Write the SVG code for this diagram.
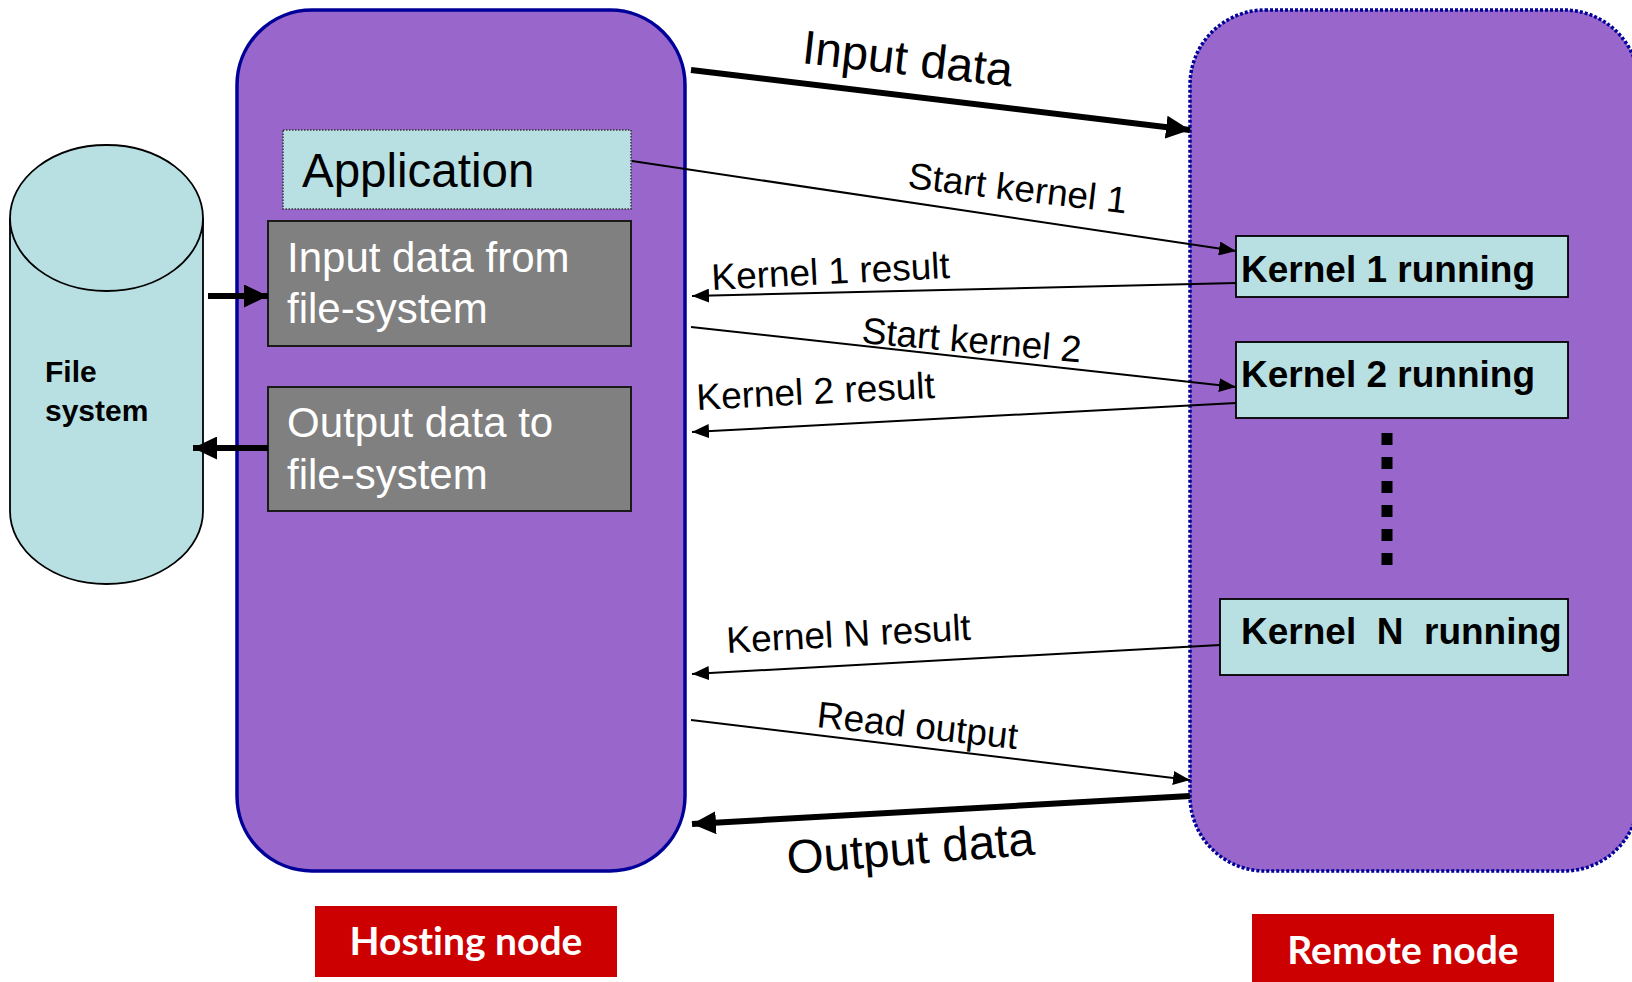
<svg xmlns="http://www.w3.org/2000/svg" width="1632" height="982" viewBox="0 0 1632 982">
<style>
  .node{fill:#9966CC;stroke:#000099;stroke-width:3.5}
  .remote{fill:#9966CC;stroke:#000099;stroke-width:3.5;stroke-dasharray:3 2}
  .cyan{fill:#B8E0E3;stroke:#000;stroke-width:1.8}
  .gray{fill:#808080;stroke:#1a1a1a;stroke-width:2}
  .red{fill:#CC0000}
  .t{font-family:"Liberation Sans",Arial,sans-serif;fill:#000}
  .w{font-family:"Liberation Sans",Arial,sans-serif;fill:#fff;font-size:42px}
  .kb{font-family:"Liberation Sans",Arial,sans-serif;font-weight:bold;font-size:37px;fill:#000}
  .lbl{font-family:"Liberation Sans",Arial,sans-serif;font-size:37px;fill:#000}
  .big{font-family:"Liberation Sans",Arial,sans-serif;font-size:47.5px;fill:#000}
  .rl{font-family:Lato,"Open Sans",sans-serif;font-weight:bold;font-size:39px;fill:#fff;font-variant-ligatures:none}
  .thin{stroke:#000;stroke-width:2;fill:none}
  .thick{stroke:#000;stroke-width:6;fill:none}
</style>
<defs>
  <marker id="ah" markerUnits="userSpaceOnUse" markerWidth="17" markerHeight="14" refX="17" refY="7" orient="auto">
    <path d="M0,0 L17,7 L0,14 z" fill="#000"/>
  </marker>
  <marker id="ahb" markerUnits="userSpaceOnUse" markerWidth="24" markerHeight="23" refX="24" refY="11.5" orient="auto">
    <path d="M0,0 L24,11.5 L0,23 z" fill="#000"/>
  </marker>
</defs>

<g id="hosting-node">
  <rect class="node" x="237" y="10" width="448" height="861" rx="75" ry="75"/>
</g>
<g id="remote-node">
  <rect class="remote" x="1190" y="10" width="449" height="861" rx="75" ry="75"/>
</g>

<g id="file-system">
  <path class="cyan" d="M10,218 L10,511 A96.5,73 0 0 0 203,511 L203,218"/>
  <ellipse class="cyan" cx="106.5" cy="218" rx="96.5" ry="73"/>
  <text class="t" x="45" y="382" font-size="30" font-weight="bold">File</text>
  <text class="t" x="45" y="421" font-size="30" font-weight="bold">system</text>
</g>

<g id="application">
  <rect x="283" y="130" width="348" height="79" fill="#B8E0E3" stroke="#333" stroke-width="1.5" stroke-dasharray="1.5 1.5"/>
  <text class="t" x="302" y="187" font-size="47.5">Application</text>
</g>

<g id="input-fs">
  <rect class="gray" x="268" y="221" width="363" height="125"/>
  <text class="w" x="287" y="272">Input data from</text>
  <text class="w" x="287" y="323">file-system</text>
</g>

<g id="output-fs">
  <rect class="gray" x="268" y="387" width="363" height="124"/>
  <text class="w" x="287" y="437">Output data to</text>
  <text class="w" x="287" y="489">file-system</text>
</g>

<g id="kernel1">
  <rect class="cyan" x="1236" y="236" width="332" height="61"/>
  <text class="kb" x="1241" y="282">Kernel 1 running</text>
</g>
<g id="kernel2">
  <rect class="cyan" x="1236" y="342" width="332" height="76"/>
  <text class="kb" x="1241" y="387">Kernel 2 running</text>
</g>
<g id="kernel-dots">
  <line x1="1387" y1="433" x2="1387" y2="567" stroke="#000" stroke-width="11" stroke-dasharray="12 12"/>
</g>
<g id="kernelN">
  <rect class="cyan" x="1220" y="599" width="348" height="76"/>
  <text class="kb" x="1241" y="644" xml:space="preserve">Kernel  N  running</text>
</g>

<g id="hosting-label">
  <rect class="red" x="315" y="906" width="302" height="71"/>
  <text class="rl" x="466" y="955" text-anchor="middle">Hosting node</text>
</g>
<g id="remote-label">
  <rect class="red" x="1252" y="914" width="302" height="72"/>
  <text class="rl" x="1403" y="964" text-anchor="middle">Remote node</text>
</g>

<g id="connectors">
  <line class="thick" x1="208" y1="296" x2="268" y2="296" marker-end="url(#ahb)"/>
  <line class="thick" x1="268" y1="448" x2="193" y2="448" marker-end="url(#ahb)"/>
  <line class="thick" x1="691" y1="70" x2="1190" y2="130" marker-end="url(#ahb)"/>
  <line class="thin" x1="632" y1="161" x2="1236" y2="251" marker-end="url(#ah)"/>
  <line class="thin" x1="1236" y1="283" x2="692" y2="296" marker-end="url(#ah)"/>
  <line class="thin" x1="691" y1="327" x2="1236" y2="387" marker-end="url(#ah)"/>
  <line class="thin" x1="1236" y1="403" x2="692" y2="432" marker-end="url(#ah)"/>
  <line class="thin" x1="1220" y1="645" x2="692" y2="674" marker-end="url(#ah)"/>
  <line class="thin" x1="691" y1="720" x2="1190" y2="780" marker-end="url(#ah)"/>
  <line class="thick" x1="1190" y1="796" x2="692" y2="824" marker-end="url(#ahb)"/>

  <text class="big" transform="translate(801,63) rotate(6.4)">Input data</text>
  <text class="lbl" transform="translate(907,188) rotate(6.6)">Start kernel 1</text>
  <text class="lbl" transform="translate(712,290) rotate(-2.9)">Kernel 1 result</text>
  <text class="lbl" transform="translate(861,343) rotate(5)">Start kernel 2</text>
  <text class="lbl" transform="translate(697,410) rotate(-2.9)">Kernel 2 result</text>
  <text class="lbl" transform="translate(727,653) rotate(-3.1)">Kernel N result</text>
  <text class="lbl" transform="translate(816,727) rotate(6.3)">Read output</text>
  <text class="big" transform="translate(788,874) rotate(-4.5)">Output data</text>
</g>
</svg>
